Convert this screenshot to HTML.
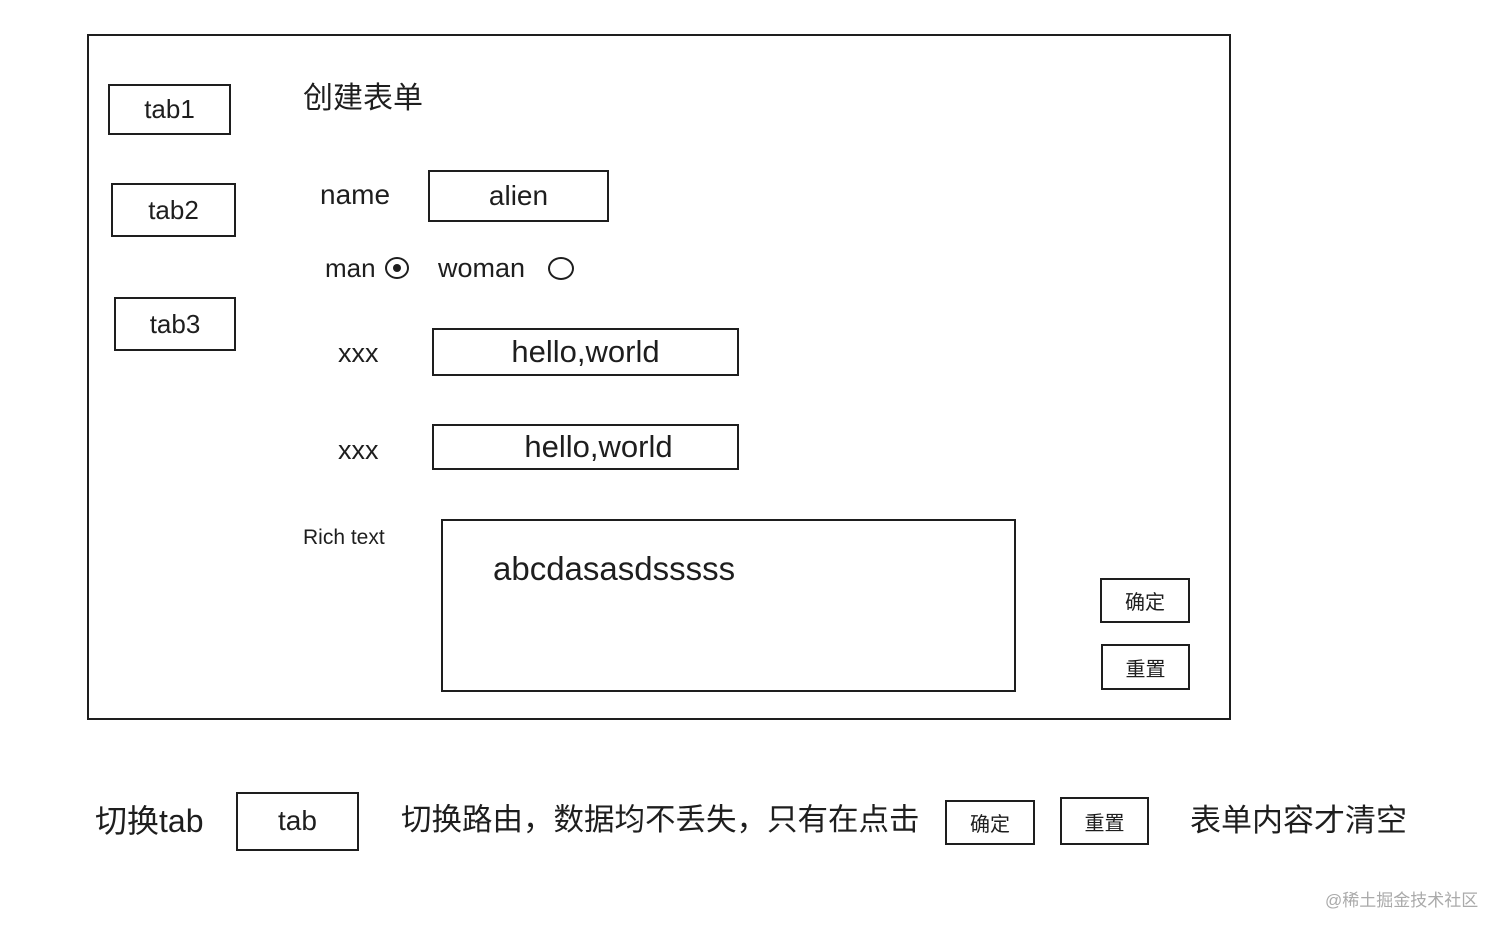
<!DOCTYPE html>
<html><head><meta charset="utf-8"><style>
html,body{margin:0;padding:0;background:#fff;}
body{width:1512px;height:937px;position:relative;overflow:hidden;font-family:"Liberation Sans","Noto Sans CJK SC",sans-serif;color:#1e1e1e;}
.b{position:absolute;border:2px solid #1e1e1e;box-sizing:border-box;display:flex;align-items:center;justify-content:center;}
.t{position:absolute;white-space:nowrap;line-height:1;}
</style></head><body>
<div class="b" style="left:87px;top:34px;width:1144px;height:686px;"></div>

<div class="b" style="left:108px;top:84px;width:123px;height:51px;font-size:26px;">tab1</div>
<div class="b" style="left:111px;top:183px;width:125px;height:54px;font-size:26px;">tab2</div>
<div class="b" style="left:114px;top:297px;width:122px;height:54px;font-size:26px;">tab3</div>

<div class="t" style="left:303px;top:84px;font-size:30px;">创建表单</div>

<div class="t" style="left:320px;top:181px;font-size:28px;">name</div>
<div class="b" style="left:428px;top:170px;width:181px;height:52px;font-size:28px;">alien</div>

<div class="t" style="left:325px;top:255px;font-size:26px;">man</div>
<div style="position:absolute;left:385px;top:257px;width:24px;height:22px;border:2px solid #1e1e1e;border-radius:50%;box-sizing:border-box;"><div style="position:absolute;left:6px;top:5px;width:8px;height:8px;background:#1e1e1e;border-radius:50%;"></div></div>
<div class="t" style="left:438px;top:255px;font-size:27px;">woman</div>
<div style="position:absolute;left:548px;top:257px;width:26px;height:23px;border:2px solid #1e1e1e;border-radius:50%;box-sizing:border-box;"></div>

<div class="t" style="left:338px;top:340px;font-size:27px;">xxx</div>
<div class="b" style="left:432px;top:328px;width:307px;height:48px;font-size:31px;">hello,world</div>
<div class="t" style="left:338px;top:437px;font-size:27px;">xxx</div>
<div class="b" style="left:432px;top:424px;width:307px;height:46px;font-size:31px;padding-left:26px;">hello,world</div>

<div class="t" style="left:303px;top:527px;font-size:21px;">Rich text</div>
<div class="b" style="left:441px;top:519px;width:575px;height:173px;"></div>
<div class="t" style="left:493px;top:552px;font-size:33px;">abcdasasdsssss</div>

<div class="b" style="left:1100px;top:578px;width:90px;height:45px;font-size:20px;">确定</div>
<div class="b" style="left:1101px;top:644px;width:89px;height:46px;font-size:20px;">重置</div>

<div class="t" style="left:95px;top:805px;font-size:32px;">切换tab</div>
<div class="b" style="left:236px;top:792px;width:123px;height:59px;font-size:28px;align-items:flex-start;padding-top:11px;">tab</div>
<div class="t" style="left:401px;top:805px;font-size:30.5px;">切换路由，数据均不丢失，只有在点击</div>
<div class="b" style="left:945px;top:800px;width:90px;height:45px;font-size:20px;">确定</div>
<div class="b" style="left:1060px;top:797px;width:89px;height:48px;font-size:20px;">重置</div>
<div class="t" style="left:1190px;top:805px;font-size:31px;">表单内容才清空</div>

<div class="t" style="left:1325px;top:892px;font-size:17px;color:#aaa;">@稀土掘金技术社区</div>
</body></html>
